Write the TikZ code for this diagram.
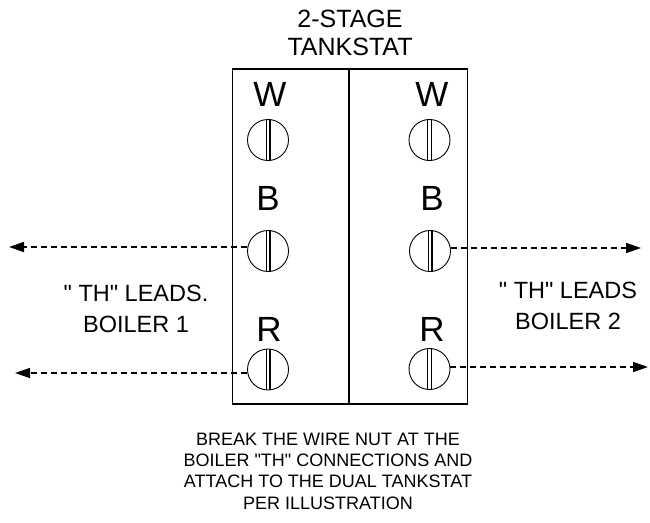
\documentclass[tikz,border=0pt]{standalone}
\usepackage{fontspec}
\setmainfont{Liberation Sans}
\usetikzlibrary{arrows.meta}
\newcommand{\dq}{\textquotedbl}
\begin{document}
\begin{tikzpicture}[x=1pt,y=-1pt,
  screw/.style={circle,draw,line width=0.9pt,minimum size=41pt,inner sep=0pt},
  term/.style={font=\fontsize{35}{35}\selectfont,inner sep=0pt},
  lead/.style={dashed,dash pattern=on 6pt off 4pt,line width=1.5pt,-{Triangle[length=15pt,width=10pt]}},
  side/.style={font=\fontsize{23.5}{31}\selectfont,align=center,inner sep=0pt},
  title/.style={font=\fontsize{25}{28.5}\selectfont,align=center,inner sep=0pt},
  note/.style={font=\fontsize{18}{21.3}\selectfont,align=center,inner sep=0pt}]
\useasboundingbox (0,0) rectangle (650,522);
% box
\draw[line width=1.3pt] (232.5,69) rectangle (467.5,404);
\draw[line width=1.3pt] (349,69) -- (349,404);
% title
\node[title] (title) at (350,33) {2-STAGE\\TANKSTAT};
% terminal letters
\node[term] (tlw) at (270,94.5) {W};
\node[term] (trw) at (432,94.5) {W};
\node[term] (tlb) at (268,198.5) {B};
\node[term] (trb) at (432,198.5) {B};
\node[term] (tlr) at (269,329.5) {R};
\node[term] (trr) at (432,329.5) {R};
% screws
\foreach \n/\x/\y in {lw/268/140, rw/429.5/140, lb/268/251, rb/430/251, lr/268/369.5, rr/429.5/369}{
  \node[screw] (\n) at (\x,\y) {};
  \draw[line width=0.8pt] ([xshift=-2pt]\n.north) -- ([xshift=-2pt]\n.south);
  \draw[line width=1.1pt] ([xshift=2pt]\n.north) -- ([xshift=2pt]\n.south);
}
% leads
\coordinate (elb) at (9,247);
\coordinate (elr) at (15,373);
\coordinate (erb) at (641,248);
\coordinate (err) at (648,367);
\draw[lead] (lb.west |- 0,247) -- (elb);
\draw[lead] (lr.west |- 0,373) -- (elr);
\draw[lead] (rb.east |- 0,248) -- (erb);
\draw[lead] (rr.east |- 0,367) -- (err);
% side labels
\node[side] (l1) at (136,309) {\dq{} TH\dq{} LEADS.\\BOILER 1};
\node[side] (l2) at (568,306) {\dq{} TH\dq{} LEADS\\BOILER 2};
% note
\node[note] (note) at (328,471) {BREAK THE WIRE NUT AT THE\\BOILER \dq{}TH\dq{} CONNECTIONS AND\\ATTACH TO THE DUAL TANKSTAT\\PER ILLUSTRATION};
\end{tikzpicture}
\end{document}
